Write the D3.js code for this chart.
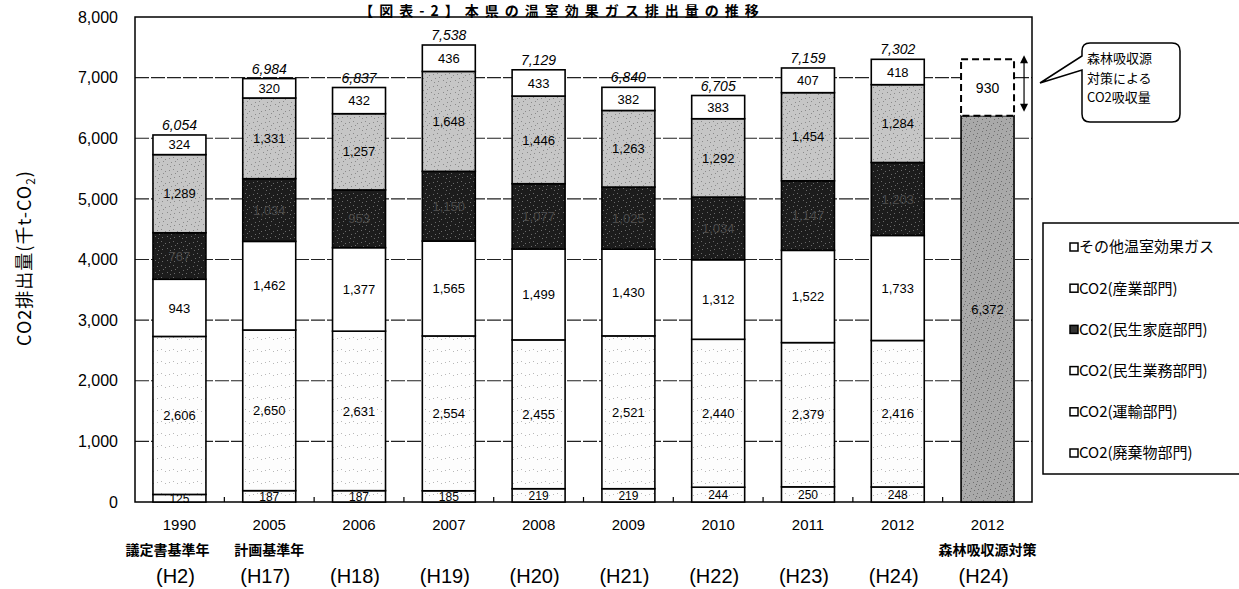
<!DOCTYPE html>
<html><head><meta charset="utf-8">
<script src="https://cdn.jsdelivr.net/npm/d3@7/dist/d3.min.js"></script>
<style>
body{margin:0;background:#fff;}
svg{display:block;font-family:"Liberation Sans",Arial,"Noto Sans CJK JP",sans-serif;}
</style></head>
<body><svg id="c" width="1239" height="589"></svg>
<script>
// ---- data ----
const years = ["1990","2005","2006","2007","2008","2009","2010","2011","2012","2012"];
const subLabels = ["議定書基準年","計画基準年","","","","","","","","森林吸収源対策"];
const heisei = ["(H2)","(H17)","(H18)","(H19)","(H20)","(H21)","(H22)","(H23)","(H24)","(H24)"];
const waste     = [125,187,187,185,219,219,244,250,248];
const transport = [2606,2650,2631,2554,2455,2521,2440,2379,2416];
const business  = [943,1462,1377,1565,1499,1430,1312,1522,1733];
const household = [767,1034,953,1150,1077,1025,1034,1147,1203];
const industry  = [1289,1331,1257,1648,1446,1263,1292,1454,1284];
const otherGas  = [324,320,432,436,433,382,383,407,418];
const totals    = [6054,6984,6837,7538,7129,6840,6705,7159,7302];
const forestEmission = 6372;
const forestAbsorb = 930;
const yTicks = [0,1000,2000,3000,4000,5000,6000,7000,8000];
const seriesNames = ["CO2(廃棄物部門)","CO2(運輸部門)","CO2(民生業務部門)","CO2(民生家庭部門)","CO2(産業部門)","その他温室効果ガス"];
const seriesData = [waste,transport,business,household,industry,otherGas];
const legendLabels = ["その他温室効果ガス","CO2(産業部門)","CO2(民生家庭部門)","CO2(民生業務部門)","CO2(運輸部門)","CO2(廃棄物部門)"];
const calloutLines = ["森林吸収源","対策による","CO2吸収量"];

(function(){
// ---- styles ----
const fills = ["url(#pLight)","url(#pLight)","#ffffff","url(#pDark)","url(#pGray)","#ffffff"];
const labelColors = ["#000","#000","#000","#4a4a4a","#000","#000"];
const legendFills = {"その他温室効果ガス":"#fff","CO2(産業部門)":"#fff","CO2(民生家庭部門)":"#333","CO2(民生業務部門)":"#fff","CO2(運輸部門)":"#fff","CO2(廃棄物部門)":"#fff"};

const svg = d3.select("#c");
const defs = svg.append("defs");
function pattern(id,bg,dot,n){
  const p = defs.append("pattern").attr("id",id).attr("patternUnits","userSpaceOnUse").attr("width",12).attr("height",12);
  p.append("rect").attr("width",12).attr("height",12).attr("fill",bg);
  const pts = [[1,2],[5,1],[9,3],[3,6],[7,5],[11,8],[2,10],[6,9],[10,11],[4,4],[8,8],[0,7]];
  pts.slice(0,n).forEach(q=>p.append("rect").attr("x",q[0]).attr("y",q[1]).attr("width",1).attr("height",1).attr("fill",dot));
}
pattern("pLight","#fdfdfd","#b8b8b8",3);
pattern("pDark","#1c1c1c","#6a6a6a",8);
pattern("pGray","#c6c6c6","#8a8a8a",8);
pattern("pForest","#a9a9a9","#6e6e6e",10);

const pLeft=135, pRight=1032, pTop=17, pBottom=502;
const x = d3.scaleBand().domain(d3.range(years.length)).range([pLeft,pRight]).paddingInner(0.41).paddingOuter(0.2);
const y = d3.scaleLinear().domain([0,8000]).range([pBottom,pTop]);
const fmt = d3.format(",");

// title
svg.append("text").attr("x",562).attr("y",15.5).attr("text-anchor","middle")
  .attr("font-size",14).attr("font-weight","bold").attr("letter-spacing",6).attr("font-family","Noto Sans CJK JP")
  .text("【図表-2】本県の温室効果ガス排出量の推移");

// gridlines
svg.append("g").selectAll("line").data(yTicks.filter(t=>t>0&&t<8000)).join("line")
  .attr("x1",pLeft).attr("x2",pRight).attr("y1",d=>y(d)).attr("y2",d=>y(d))
  .attr("stroke","#222").attr("stroke-width",1.2).attr("stroke-dasharray","14,2");

// frame
svg.append("rect").attr("x",pLeft).attr("y",pTop).attr("width",pRight-pLeft).attr("height",pBottom-pTop)
  .attr("fill","none").attr("stroke","#000").attr("stroke-width",1.5);

// y axis
const yAxis = svg.append("g").attr("transform",`translate(${pLeft},0)`)
  .call(d3.axisLeft(y).tickValues(yTicks).tickFormat(fmt).tickSize(0).tickPadding(17));
yAxis.select(".domain").remove();
yAxis.selectAll("text").attr("font-size",16).attr("fill","#000").attr("font-family","Liberation Sans, Arial");

// y label
const yl = svg.append("text").attr("transform","translate(31,258) rotate(-90)").attr("text-anchor","middle")
  .attr("font-size",18).attr("letter-spacing",1).attr("font-family","Noto Sans CJK JP");
yl.append("tspan").text("CO2排出量(千t-CO");
yl.append("tspan").attr("font-size",12).attr("dy",4).text("2");
yl.append("tspan").attr("dy",-4).text(")");

// bottom small ticks at category boundaries
svg.append("g").selectAll("line").data(d3.range(1,years.length)).join("line")
  .attr("x1",d=>x(d)-x.step()*x.paddingInner()/2).attr("x2",d=>x(d)-x.step()*x.paddingInner()/2)
  .attr("y1",pBottom).attr("y2",pBottom-5).attr("stroke","#000").attr("stroke-width",1.2);

// stacked bars
const nYears = totals.length;
const stackRows = d3.range(nYears).map(i=>{const o={i}; seriesNames.forEach((s,k)=>o[s]=seriesData[k][i]); return o;});
const stacked = d3.stack().keys(seriesNames)(stackRows);
const gBars = svg.append("g");
stacked.forEach((layer,k)=>{
  gBars.append("g").selectAll("rect").data(layer).join("rect")
    .attr("x",d=>x(d.data.i)).attr("width",x.bandwidth())
    .attr("y",d=>y(d[1])).attr("height",d=>y(d[0])-y(d[1]))
    .attr("fill",fills[k]).attr("stroke","#000").attr("stroke-width",1.6);
});
stacked.forEach((layer,k)=>{
  gBars.append("g").selectAll("text").data(layer).join("text")
    .attr("x",d=>x(d.data.i)+x.bandwidth()/2).attr("y",d=>(y(d[0])+y(d[1]))/2)
    .attr("dy","0.36em").attr("text-anchor","middle")
    .attr("font-size",k===0?12:13).attr("fill",labelColors[k])
    .text(d=>fmt(d[1]-d[0]));
});
// totals
svg.append("g").selectAll("text").data(totals).join("text")
  .attr("x",(d,i)=>x(i)+x.bandwidth()/2).attr("y",d=>y(d)-5)
  .attr("text-anchor","middle").attr("font-size",14).attr("font-style","italic")
  .text(d=>fmt(d));

// forest bar
const fi = years.length-1;
svg.append("rect").attr("x",x(fi)).attr("width",x.bandwidth()).attr("y",y(forestEmission))
  .attr("height",y(0)-y(forestEmission)).attr("fill","url(#pForest)").attr("stroke","#000").attr("stroke-width",1.6);
svg.append("text").attr("x",x(fi)+x.bandwidth()/2).attr("y",y(forestEmission/2)).attr("dy","0.36em")
  .attr("text-anchor","middle").attr("font-size",13).text(fmt(forestEmission));
svg.append("rect").attr("x",x(fi)).attr("width",x.bandwidth()).attr("y",y(forestEmission+forestAbsorb))
  .attr("height",y(forestEmission)-y(forestEmission+forestAbsorb)).attr("fill","#fff")
  .attr("stroke","#000").attr("stroke-width",2).attr("stroke-dasharray","7,4");
svg.append("text").attr("x",x(fi)+x.bandwidth()/2).attr("y",y(forestEmission+forestAbsorb/2)).attr("dy","0.36em")
  .attr("text-anchor","middle").attr("font-size",14).text(fmt(forestAbsorb));
// double arrow
const ax = x(fi)+x.bandwidth()+10;
const ay1 = y(forestEmission+forestAbsorb)-4, ay2 = y(forestEmission)-4;
svg.append("line").attr("x1",ax).attr("x2",ax).attr("y1",ay1+6).attr("y2",ay2-6).attr("stroke","#000").attr("stroke-width",1.2);
svg.append("path").attr("d",`M${ax},${ay1} l-4,8 h8 Z M${ax},${ay2} l-4,-8 h8 Z`).attr("fill","#000");

// callout
svg.append("path").attr("d","M1090,43 H1172 Q1180,43 1180,51 V114 Q1180,122 1172,122 H1090 Q1082,122 1082,114 V70 L1040,83 L1082,56 V51 Q1082,43 1090,43 Z")
  .attr("fill","#fff").attr("stroke","#000").attr("stroke-width",1.5);
svg.append("g").selectAll("text").data(calloutLines).join("text")
  .attr("x",1087).attr("y",(d,i)=>63+i*19.5).attr("font-size",13).attr("font-family","Noto Sans CJK JP")
  .text(d=>d);

// x labels
const gx = svg.append("g");
gx.selectAll("text.yr").data(years).join("text").attr("class","yr")
  .attr("x",(d,i)=>x(i)+x.bandwidth()/2).attr("y",530).attr("text-anchor","middle").attr("font-size",15).text(d=>d);
gx.selectAll("text.sub").data(subLabels).join("text").attr("class","sub")
  .attr("x",(d,i)=>x(i)+x.bandwidth()/2-(i===0?12:0)).attr("y",555).attr("text-anchor","middle")
  .attr("font-size",14).attr("font-weight","bold").attr("font-family","Noto Sans CJK JP").text(d=>d);
gx.selectAll("text.h").data(heisei).join("text").attr("class","h")
  .attr("x",(d,i)=>x(i)+x.bandwidth()/2-4).attr("y",583).attr("text-anchor","middle").attr("font-size",20).text(d=>d);

// legend
svg.append("rect").attr("x",1043).attr("y",223).attr("width",230).attr("height",251)
  .attr("fill","#fff").attr("stroke","#000").attr("stroke-width",1.5);
const lg = svg.append("g").selectAll("g").data(legendLabels).join("g")
  .attr("transform",(d,i)=>`translate(1070,${247+i*41.2})`);
lg.append("rect").attr("x",0).attr("y",-4).attr("width",8).attr("height",8)
  .attr("fill",d=>legendFills[d]).attr("stroke","#000").attr("stroke-width",1.5);
lg.append("text").attr("x",9).attr("dy","0.36em").attr("font-size",15).attr("font-family","Noto Sans CJK JP").text(d=>d);
})();
</script></body></html>
